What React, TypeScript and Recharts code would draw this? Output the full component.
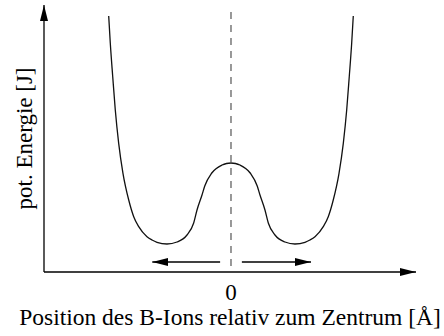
import React from "react";
import { LineChart, Line, XAxis, YAxis, ReferenceLine } from "recharts";

// position relative to the centre (Å, arbitrary scale)
const positions = [
  -1.911, -1.886, -1.848, -1.808, -1.755, -1.688, -1.598, -1.52, -1.442,
  -1.3125, -1.234, -1.156, -1.0, -0.844, -0.6875, -0.583, -0.531, -0.453, -0.41,
  -0.3, -0.14, -0.07, 0, 0.07, 0.14, 0.3, 0.41, 0.453, 0.531, 0.583, 0.6875,
  0.844, 1.0, 1.156, 1.234, 1.3125, 1.442, 1.52, 1.598, 1.688, 1.755, 1.808,
  1.848, 1.886, 1.911,
];
// potential energy (arbitrary units)
const energies = [
  2.56, 2.287, 1.953, 1.62, 1.287, 0.987, 0.72, 0.553, 0.453, 0.353, 0.32,
  0.297, 0.28, 0.3, 0.37, 0.49, 0.62, 0.77, 0.86, 0.99, 1.07, 1.085, 1.09,
  1.085, 1.07, 0.99, 0.86, 0.77, 0.62, 0.49, 0.37, 0.3, 0.28, 0.297, 0.32,
  0.353, 0.453, 0.553, 0.72, 0.987, 1.287, 1.62, 1.953, 2.287, 2.56,
];
const xTicks = [0];

// arrows showing the displacement of the ion
const arrowLevel = 0.1;
const leftArrow = [-0.17, -1.23];
const rightArrow = [0.17, 1.25];

const curve = positions.map((x, i) => ({ x, e: energies[i] }));

const font = "'Liberation Serif', 'Times New Roman', serif";

export default function App() {
  return (
    <div style={{ position: "absolute", left: 0, top: 0 }}>
      <LineChart
        width={444}
        height={336}
        data={curve}
        margin={{ top: 5, right: 28, bottom: 0, left: 4 }}
      >
        <defs>
          <marker
            id="head"
            viewBox="0 0 16 8"
            refX={16}
            refY={4}
            markerWidth={16}
            markerHeight={8}
            markerUnits="userSpaceOnUse"
            orient="auto-start-reverse"
          >
            <path d="M0,0 L16,4 L0,8 Z" fill="#000" />
          </marker>
        </defs>
        <XAxis
          dataKey="x"
          type="number"
          domain={[-2.922, 2.891]}
          ticks={xTicks}
          height={64}
          tickLine={false}
          tickSize={0}
          tickMargin={12}
          axisLine={{ stroke: "#000", strokeWidth: 1.3, markerEnd: "url(#head)" }}
          tick={{ fill: "#000", fontSize: 23, fontFamily: font }}
          label={{
            value: "Position des B-Ions relativ zum Zentrum [Å]",
            position: "insideBottom",
            offset: 11,
            fill: "#000",
            fontSize: 23.5,
            fontFamily: font,
          }}
        />
        <YAxis
          type="number"
          domain={[0, 2.67]}
          width={40}
          tick={false}
          tickLine={false}
          axisLine={{ stroke: "#000", strokeWidth: 1.3, markerStart: "url(#head)" }}
          label={{
            value: "pot. Energie [J]",
            angle: -90,
            position: "center",
            fill: "#000",
            fontSize: 23,
            fontFamily: font,
          }}
        />
        <ReferenceLine
          segment={[
            { x: 0, y: 2.6 },
            { x: 0, y: 0 },
          ]}
          stroke="#777"
          strokeWidth={1.5}
          strokeDasharray="7 6"
        />
        <ReferenceLine
          segment={[
            { x: leftArrow[0], y: arrowLevel },
            { x: leftArrow[1], y: arrowLevel },
          ]}
          stroke="#000"
          strokeWidth={1.3}
          markerEnd="url(#head)"
        />
        <ReferenceLine
          segment={[
            { x: rightArrow[0], y: arrowLevel },
            { x: rightArrow[1], y: arrowLevel },
          ]}
          stroke="#000"
          strokeWidth={1.3}
          markerEnd="url(#head)"
        />
        <Line
          type="monotone"
          dataKey="e"
          stroke="#111"
          strokeWidth={1.3}
          dot={false}
          isAnimationActive={false}
        />
      </LineChart>
    </div>
  );
}
